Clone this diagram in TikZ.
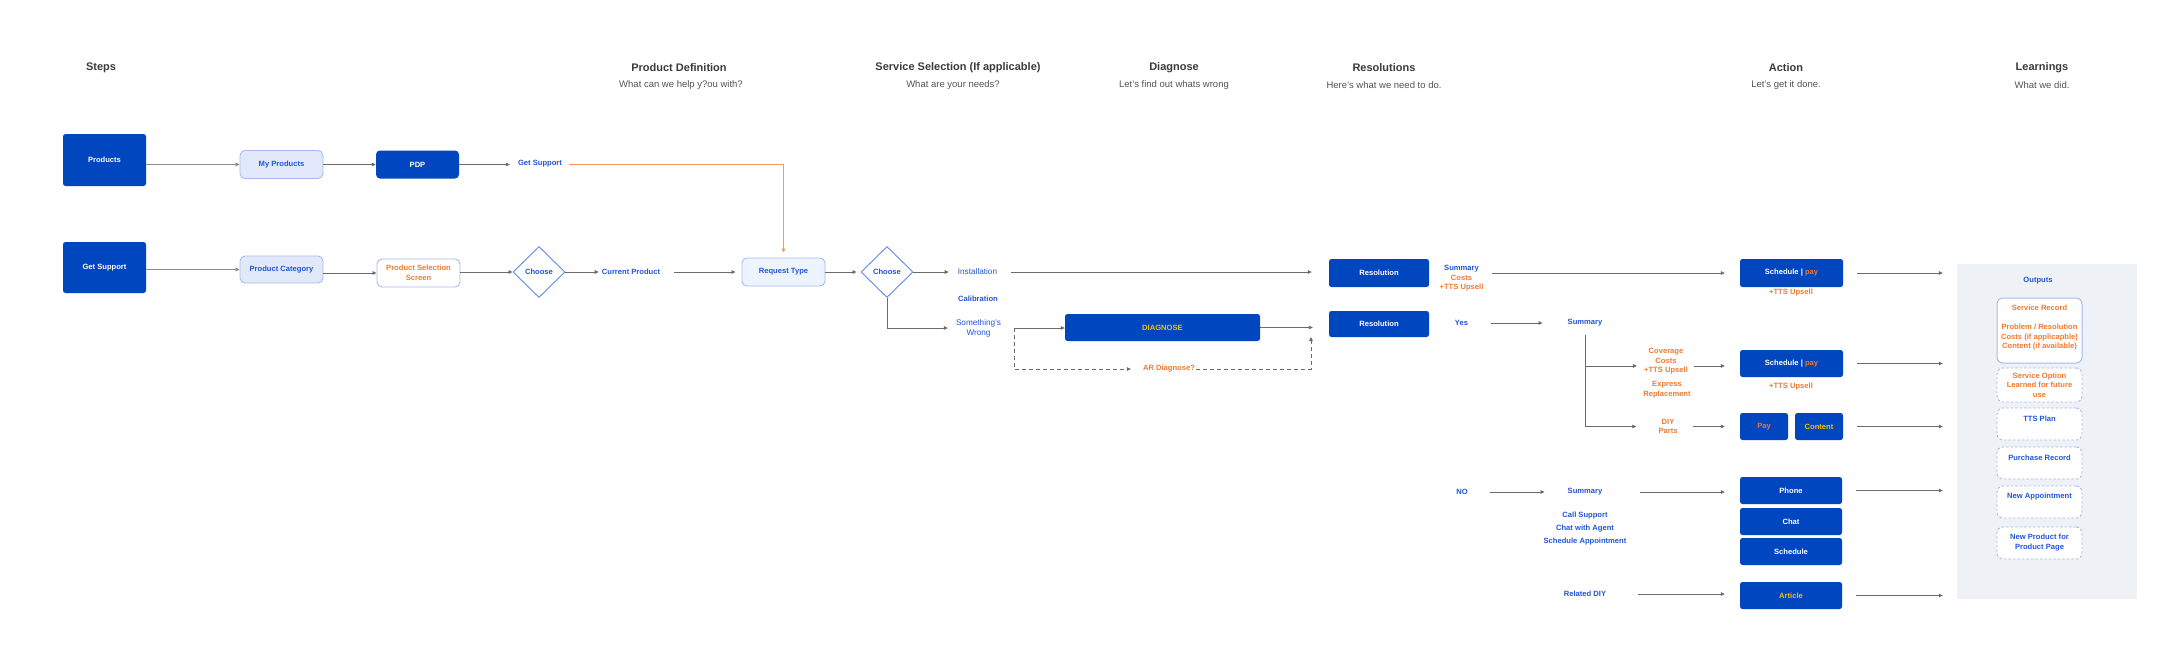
\documentclass[tikz,border=0pt]{standalone}
\usepackage{fontspec}
\setmainfont{Liberation Sans}
\usetikzlibrary{arrows.meta,shapes.geometric}
\definecolor{dblue}{HTML}{0046BE}
\definecolor{lfill}{HTML}{E1E8FA}
\definecolor{rfill}{HTML}{EEF4FF}
\definecolor{lborder}{HTML}{A4BCF0}
\definecolor{dmborder}{HTML}{5F8AE8}
\definecolor{tblue}{HTML}{2255D6}
\definecolor{orng}{HTML}{F07A30}
\definecolor{oline}{HTML}{F29A5E}
\definecolor{yel}{HTML}{F2C200}
\definecolor{panelc}{HTML}{EEF1F5}
\definecolor{lgray}{HTML}{6B6B6B}
\definecolor{mgray}{HTML}{8C8C8C}
\definecolor{ttlc}{HTML}{3B3B3B}
\definecolor{subc}{HTML}{555555}
\newcommand\lab{\fontsize{7.6}{9.5}\selectfont\bfseries}
\newcommand\labr{\fontsize{8.2}{10}\selectfont}
\newcommand\ttlfont{\fontsize{11}{13}\selectfont\bfseries}
\newcommand\subfont{\fontsize{9.5}{11}\selectfont}
\begin{document}
\begin{tikzpicture}[x=1pt,y=-1pt,
  ttl/.style={font=\ttlfont, text=ttlc, inner sep=0pt},
  subt/.style={font=\subfont, text=subc, inner sep=0pt},
  dbox/.style={fill=dblue, text=white, font=\lab, rounded corners=2.5pt, inner sep=0pt, align=center},
  lbox/.style={fill=lfill, draw=lborder, line width=0.9pt, rounded corners=5pt, text=tblue, font=\lab, inner sep=0pt, align=center},
  wbox/.style={lbox, fill=white},
  rbox/.style={lbox, fill=rfill},
  diam/.style={diamond, draw=dmborder, fill=white, line width=0.9pt, minimum width=52pt, minimum height=51pt, inner sep=0pt, text=tblue, font=\lab},
  btxt/.style={text=tblue, font=\lab, inner sep=0pt, align=center},
  btxtr/.style={text=tblue, font=\labr, inner sep=0pt, align=center},
  otxt/.style={text=orng, font=\lab, inner sep=0pt, align=center},
  arr/.style={draw=lgray, line width=0.8pt, -{Triangle[length=4pt,width=3.6pt]}},
  thickarr/.style={arr, draw=mgray, line width=1.3pt, -{Triangle[length=4pt,width=3.8pt]}},
  oarr/.style={draw=oline, line width=0.9pt, -{Triangle[length=4pt,width=3.6pt]}},
  darr/.style={arr, dash pattern=on 4pt off 3pt},
  outsolid/.style={fill=white, draw=lborder, line width=1pt, rounded corners=6pt, minimum width=85pt, inner sep=0pt},
  outdash/.style={outsolid, line width=0.9pt, dash pattern=on 2.5pt off 2pt}
]
\useasboundingbox (0,0) rectangle (2160,670);
\fill[white] (0,0) rectangle (2160,670);

% titles
\node[ttl] (t1) at (101,68) {Steps};
\node[ttl] (t2) at (679,68) {Product Definition};
\node[subt] (s2) at (681,85) {What can we help y?ou with?};
\node[ttl] (t3) at (958,68) {Service Selection (If applicable)};
\node[subt] (s3) at (953,85) {What are your needs?};
\node[ttl] (t4) at (1174,68) {Diagnose};
\node[subt] (s4) at (1174,85) {Let's find out whats wrong};
\node[ttl] (t5) at (1384,68) {Resolutions};
\node[subt] (s5) at (1384,85) {Here's what we need to do.};
\node[ttl] (t6) at (1786,68) {Action};
\node[subt] (s6) at (1786,85) {Let's get it done.};
\node[ttl] (t7) at (2042,68) {Learnings};
\node[subt] (s7) at (2042,85) {What we did.};

% row 1
\node[dbox, minimum width=83pt, minimum height=52pt] (products) at (104.5,160) {Products};
\node[lbox, minimum width=83pt, minimum height=28pt] (myprod) at (281.5,164.5) {My Products};
\node[dbox, rounded corners=4pt, minimum width=83pt, minimum height=28pt] (pdp) at (417.5,164.5) {PDP};
\node[btxt] (getsup1) at (540,164) {Get Support};

% row 2
\node[dbox, minimum width=83pt, minimum height=51pt] (getsup2) at (104.5,267.5) {Get Support};
\node[lbox, minimum width=83pt, minimum height=27pt] (prodcat) at (281.5,269.5) {Product Category};
\node[wbox, minimum width=83pt, minimum height=28pt, text=orng] (pss) at (418.5,273) {Product Selection\\Screen};
\node[diam] (choose1) at (539,272) {Choose};
\node[btxt] (curprod) at (631,272) {Current Product};
\node[rbox, minimum width=83pt, minimum height=28pt] (reqtype) at (783.5,272) {Request Type};
\node[diam] (choose2) at (887,272) {Choose};
\node[btxtr] (install) at (977.5,272) {Installation};
\node[btxt] (calib) at (978,299) {Calibration};
\node[btxtr] (wrong) at (978.5,328) {Something's\\Wrong};
\node[dbox, minimum width=100pt, minimum height=28pt] (res1) at (1379,273) {Resolution};
\node[dbox, minimum width=195pt, minimum height=27pt, text=yel] (diag) at (1162.5,327.5) {DIAGNOSE};
\node[otxt] (ardiag) at (1169,369) {AR Diagnose?};
\node[dbox, minimum width=100pt, minimum height=26pt] (res2) at (1379,324) {Resolution};
\coordinate (split) at (1014,328);
\coordinate (dtip) at (1311,337);

% right part
\node[btxt] (sum1) at (1461.5,278.5) {Summary\\\textcolor{orng}{Costs}\\\textcolor{orng}{+TTS Upsell}};
\node[dbox, minimum width=103pt, minimum height=28pt] (sched1) at (1791.5,273) {Schedule | \textcolor{orng}{pay}};
\node[otxt] (tts1) at (1791,293) {+TTS Upsell};
\node[btxt] (yes) at (1461.5,323) {Yes};
\node[btxt] (sum2) at (1585,323) {Summary};
\node[otxt] (cov) at (1666,361.5) {Coverage\\Costs\\+TTS Upsell};
\node[otxt] (express) at (1667,389.5) {Express\\Replacement};
\node[dbox, minimum width=103pt, minimum height=27pt] (sched2) at (1791.5,363.5) {Schedule | \textcolor{orng}{pay}};
\node[otxt] (tts2) at (1791,387) {+TTS Upsell};
\node[otxt] (diy) at (1668,426.5) {DIY\\Parts};
\node[dbox, minimum width=48pt, minimum height=27pt, text=orng] (pay) at (1764,426.5) {Pay};
\node[dbox, minimum width=48pt, minimum height=27pt, text=yel] (content) at (1819,426.5) {Content};
\node[btxt] (no) at (1462,492) {NO};
\node[btxt] (sum3) at (1585,492) {Summary};
\node[btxt, font=\fontsize{7.6}{13}\selectfont\bfseries] (callsup) at (1585,529) {Call Support\\Chat with Agent\\Schedule Appointment};
\node[dbox, minimum width=102pt, minimum height=27pt] (phone) at (1791,490.5) {Phone};
\node[dbox, minimum width=102pt, minimum height=27pt] (chat) at (1791,521.5) {Chat};
\node[dbox, minimum width=102pt, minimum height=27pt] (schedule) at (1791,551.5) {Schedule};
\node[btxt] (reldiy) at (1585,594) {Related DIY};
\node[dbox, minimum width=102pt, minimum height=27pt, text=yel] (article) at (1791,595.5) {Article};

% outputs panel
\node[fill=panelc, minimum width=180pt, minimum height=335pt, inner sep=0pt] (panel) at (2047,431.5) {};
\node[btxt] (outputs) at (2038,281) {Outputs};
\node[outsolid, minimum height=65pt] (servrec) at (2039.5,330.5) {};
\node[otxt] (servrect) at (2039.5,328) {Service Record\\[9.5pt]Problem / Resolution\\Costs (if applicapble)\\Content (if available)};
\node[outdash, minimum height=34pt] (servopt) at (2039.5,385) {};
\node[otxt] (servoptt) at (2039.5,385) {Service Option\\Learned for future\\use};
\node[outdash, minimum height=32pt] (ttsplan) at (2039.5,424) {};
\node[btxt] (ttsplant) at (2039.5,419) {TTS Plan};
\node[outdash, minimum height=32pt] (purch) at (2039.5,463) {};
\node[btxt] (purcht) at (2039.5,458) {Purchase Record};
\node[outdash, minimum height=32pt] (newappt) at (2039.5,502) {};
\node[btxt] (newapptt) at (2039.5,497) {New Appointment};
\node[outdash, minimum height=32pt] (newprod) at (2039.5,543) {};
\node[btxt] (newprodt) at (2039.5,542.5) {New Product for\\Product Page};

% connectors row 1
\draw[thickarr] (products.east |- myprod.west) -- (myprod.west);
\draw[arr] (myprod.east) -- (pdp.west);
\draw[arr, shorten >=8pt] (pdp.east) -- (pdp.east -| getsup1.west);
\draw[oarr, shorten <=7pt, shorten >=5pt] (getsup1.east) -| (reqtype.north);

% connectors row 2
\draw[thickarr] (getsup2.east |- prodcat.west) -- (prodcat.west);
\draw[arr] (prodcat.east |- pss.west) -- (pss.west);
\draw[arr] (pss.east |- choose1.west) -- (choose1.west);
\draw[arr, shorten >=3pt] (choose1.east) -- (curprod.west);
\draw[arr, shorten <=14pt, shorten >=6pt] (curprod.east) -- (reqtype.west);
\draw[arr, shorten >=4pt] (reqtype.east) -- (choose2.west);
\draw[arr, shorten >=9pt] (choose2.east) -- (install.west);
\draw[arr, shorten <=14pt, shorten >=17pt] (install.east) -- (install.east -| res1.west);
\draw[arr, shorten >=8pt] (choose2.south) |- (wrong.west);
\draw[arr] (split) -- (split -| diag.west);
\draw[darr, shorten >=12pt] (split) |- (ardiag.west);
\draw[darr, shorten <=1pt] (ardiag.east) -| (dtip);
\draw[arr, shorten >=16pt] (diag.east) -- (diag.east -| res2.west);

% connectors right
\draw[arr, shorten <=8pt, shorten >=15pt] (sum1.east |- sched1.west) -- (sched1.west);
\draw[arr, shorten <=14pt, shorten >=14pt] (sched1.east) -- (sched1.east -| panel.west);
\draw[arr, shorten <=23pt, shorten >=25pt] (yes.east) -- (sum2.west);
\draw[arr, shorten <=8pt, shorten >=7pt] (sum2.south) |- ([yshift=-4.5pt]cov.west);
\draw[arr, shorten <=8pt, shorten >=22pt] (sum2.south) |- (diy.west);
\draw[arr, shorten <=6pt, shorten >=15pt] ([yshift=-4.5pt]cov.east) -- ([yshift=-4.5pt]cov.east -| sched2.west);
\draw[arr, shorten <=14pt, shorten >=14pt] (sched2.east) -- (sched2.east -| panel.west);
\draw[arr, shorten <=15pt, shorten >=15pt] (diy.east) -- (diy.east -| pay.west);
\draw[arr, shorten <=14pt, shorten >=14pt] (content.east) -- (content.east -| panel.west);
\draw[arr, shorten <=22pt, shorten >=23pt] (no.east) -- (sum3.west);
\draw[arr, shorten <=37pt, shorten >=15pt] (sum3.east) -- (sum3.east -| phone.west);
\draw[arr, shorten <=14pt, shorten >=14pt] (phone.east) -- (phone.east -| panel.west);
\draw[arr, shorten <=32pt, shorten >=15pt] (reldiy.east) -- (reldiy.east -| article.west);
\draw[arr, shorten <=14pt, shorten >=14pt] (article.east) -- (article.east -| panel.west);
\end{tikzpicture}
\end{document}
